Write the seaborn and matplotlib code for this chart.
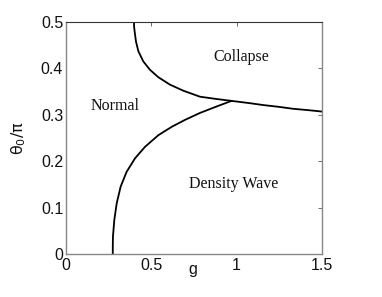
import matplotlib
matplotlib.use("Agg")
import matplotlib.pyplot as plt
import seaborn as sns
import pandas as pd

# Upper boundary (Normal / Collapse, then Collapse / Density Wave)
upper_g = [0.398, 0.399, 0.402, 0.410, 0.424, 0.453, 0.492, 0.541, 0.609, 0.687, 0.785,
           0.883, 0.97, 1.078, 1.156, 1.25, 1.33, 1.42, 1.5]
upper_theta = [0.5, 0.490, 0.480, 0.458, 0.437, 0.415, 0.397, 0.381, 0.365, 0.352, 0.339,
               0.334, 0.330, 0.325, 0.321, 0.317, 0.313, 0.310, 0.307]

# Lower boundary (Normal / Density Wave)
lower_g = [0.274, 0.2743, 0.275, 0.283, 0.297, 0.320, 0.355, 0.404, 0.463, 0.541, 0.619,
           0.697, 0.785, 0.883, 0.97]
lower_theta = [0.0, 0.018, 0.037, 0.073, 0.109, 0.145, 0.177, 0.206, 0.231, 0.256, 0.274,
               0.289, 0.304, 0.318, 0.330]

region_labels = ["Normal", "Collapse", "Density Wave"]
region_g = [0.287, 1.025, 0.98]
region_theta = [0.318, 0.425, 0.151]

x_ticks = [0, 0.5, 1, 1.5]
x_ticklabels = ["0", "0.5", "1", "1.5"]
y_ticks = [0, 0.1, 0.2, 0.3, 0.4, 0.5]
y_ticklabels = ["0", "0.1", "0.2", "0.3", "0.4", "0.5"]

sns.set_theme(style="white")
plt.rcParams["font.family"] = ["Liberation Sans", "DejaVu Sans"]
plt.rcParams["mathtext.fontset"] = "custom"
plt.rcParams["mathtext.rm"] = "DejaVu Sans"
plt.rcParams["mathtext.it"] = "DejaVu Sans"

fig = plt.figure(figsize=(3.82, 2.97), dpi=100)
ax = fig.add_axes([66 / 382, 1 - 254 / 297, 256 / 382, 232 / 297])

up = pd.DataFrame({"g": upper_g, "theta": upper_theta})
lo = pd.DataFrame({"g": lower_g, "theta": lower_theta})
sns.lineplot(data=up, x="g", y="theta", sort=False, estimator=None, color="black", lw=1.3, ax=ax)
sns.lineplot(data=lo, x="g", y="theta", sort=False, estimator=None, color="black", lw=1.3, ax=ax)

for lab, gx, ty in zip(region_labels, region_g, region_theta):
    ax.text(gx, ty, lab, ha="center", va="center", fontsize=11.5,
            family=["Liberation Serif", "DejaVu Serif"], color="#111111")

ax.set_xlim(0, 1.5)
ax.set_ylim(0, 0.5)
ax.set_xticks(x_ticks)
ax.set_xticklabels(x_ticklabels)
ax.set_yticks(y_ticks)
ax.set_yticklabels(y_ticklabels)
ax.tick_params(axis="both", direction="in", length=3, width=0.6, color="#555555",
               labelsize=11.5, labelcolor="#111111", top=True, right=True)
ax.tick_params(axis="x", pad=3)
ax.tick_params(axis="y", pad=2)

ax.set_xlabel("g", fontsize=11.5, color="#111111")
ax.xaxis.set_label_coords(0.496, -0.035)
ax.set_ylabel(r"$\theta_0/\pi$", fontsize=11.5, color="#111111")
ax.yaxis.set_label_coords(-0.15, 0.5)

for side in ["left", "right", "bottom"]:
    ax.spines[side].set_color("#888888")
    ax.spines[side].set_linewidth(1.0)
ax.spines["top"].set_color("#333333")
ax.spines["top"].set_linewidth(0.8)
for s in ax.spines.values():
    s.set_visible(True)

fig.savefig("out.png", dpi=100)
